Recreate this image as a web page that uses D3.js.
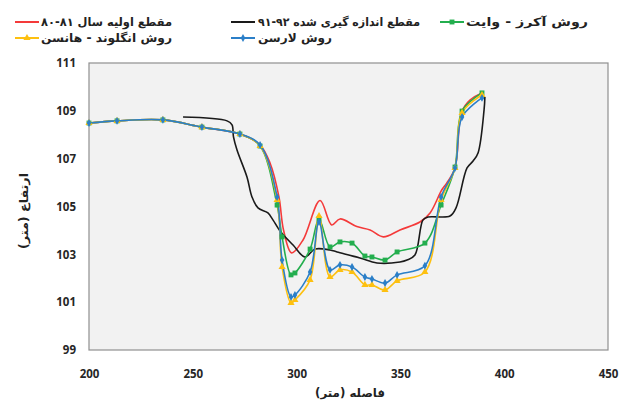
<!DOCTYPE html>
<html><head><meta charset="utf-8">
<script src="https://cdn.jsdelivr.net/npm/d3@7/dist/d3.min.js"></script>
<style>body{margin:0;background:#fff}svg{display:block}</style>
</head><body>
<svg id="chart" width="619" height="405"></svg>
<script>
// ---- data ----
const xTicks = [200, 250, 300, 350, 400, 450];
const yTicks = [99, 101, 103, 105, 107, 109, 111];

// stations of the calculated (marker) series
const methodX = [200, 213.5, 235.6, 254.4, 272.7, 282.4, 290.6, 293.0, 297.3, 299.2, 306.5, 310.8, 316.1, 320.9, 326.7, 332.9, 336.3, 342.6, 348.4, 361.8, 369.6, 376.3, 379.7, 389.3];
const ackersWhite = [108.49, 108.58, 108.62, 108.32, 108.03, 107.53, 105.06, 103.73, 102.14, 102.22, 103.22, 104.48, 103.31, 103.52, 103.47, 102.93, 102.89, 102.76, 103.10, 103.47, 105.06, 106.65, 108.99, 109.75];
const larsen      = [108.49, 108.58, 108.62, 108.32, 108.03, 107.57, 105.40, 102.76, 101.22, 101.30, 102.26, 104.35, 102.35, 102.56, 102.47, 102.05, 101.97, 101.80, 102.14, 102.52, 105.40, 106.61, 108.74, 109.54];
const engelund    = [108.49, 108.58, 108.62, 108.32, 108.03, 107.53, 105.27, 102.47, 100.97, 101.09, 101.93, 104.60, 102.05, 102.35, 102.26, 101.72, 101.72, 101.51, 101.89, 102.26, 105.27, 106.61, 108.91, 109.66];

// initial section 80-81
const initialX = [200, 213.5, 235.6, 254.4, 272.7, 282.4, 287.2, 291.5, 293.7, 297.6, 303.1, 311.3, 316.9, 320.9, 329.0, 335.4, 341.8, 349.8, 359.4, 364.3, 369.9, 372.3, 376.3, 379.5, 383.5, 389.3];
const initialY = [108.49, 108.58, 108.62, 108.32, 108.03, 107.57, 106.82, 105.40, 104.02, 103.06, 103.60, 105.25, 104.23, 104.48, 104.16, 104.02, 103.73, 104.02, 104.35, 104.73, 105.69, 105.98, 106.61, 108.95, 109.45, 109.75];

// measured section 91-92
const measuredX = [245.3, 266.5, 268.9, 269.6, 271.3, 276.1, 278.5, 281.4, 286.2, 288.6, 292.0, 298.3, 304.0, 308.9, 316.1, 319.5, 330.5, 338.7, 349.8, 353.2, 357.0, 360.9, 363.3, 373.9, 376.8, 382.1, 385.0, 387.4, 390.3, 390.7];
const measuredY = [108.74, 108.58, 108.41, 107.91, 107.36, 106.23, 105.40, 104.94, 104.73, 104.44, 103.98, 103.39, 102.89, 103.22, 103.18, 103.10, 102.85, 102.64, 102.68, 102.76, 102.97, 104.44, 104.56, 104.60, 104.94, 106.61, 106.90, 107.24, 109.04, 109.58];

const seriesNames = {
  initial: "مقطع اولیه سال ۸۱-۸۰",
  measured: "مقطع اندازه گیری شده ۹۲-۹۱",
  ackers: "روش آکرز - وایت",
  engelund: "روش انگلوند - هانسن",
  larsen: "روش لارسن"
};
const xTitle = "فاصله (متر)";
const yTitle = "ارتفاع (متر)";

// ---- drawing ----
const svg = d3.select("#chart");
const x = d3.scaleLinear().domain([200, 450]).range([89, 608]);
const y = d3.scaleLinear().domain([99, 111]).range([350, 63]);

svg.append("rect").attr("x", x(200)).attr("y", y(111))
  .attr("width", x(450) - x(200)).attr("height", y(99) - y(111))
  .attr("fill", "#f2f2f2").attr("stroke", "#8f8f8f").attr("stroke-width", 1.2);

const tickFont = "'Open Sans', 'DejaVu Sans', sans-serif";
const gy = svg.append("g").attr("transform", `translate(${x(200)},0)`)
  .call(d3.axisLeft(y).tickValues(yTicks).tickSize(0).tickPadding(13).tickFormat(d3.format("d")));
const gx = svg.append("g").attr("transform", `translate(0,${y(99)})`)
  .call(d3.axisBottom(x).tickValues(xTicks).tickSize(0).tickPadding(20).tickFormat(d3.format("d")));
[gx, gy].forEach(g => {
  g.select(".domain").remove();
  g.selectAll("text").attr("font-family", tickFont).attr("font-size", 11.5)
    .attr("font-weight", 700).attr("fill", "#262626");
});

const line = d3.line().x(d => x(d[0])).y(d => y(d[1])).curve(d3.curveCatmullRom.alpha(0.5));
const zip = (xs, ys) => xs.map((v, i) => [v, ys[i]]);

const colors = { initial: "#f43a3a", measured: "#1a1a1a", ackers: "#23ae4e", engelund: "#fdc010", larsen: "#2b7fc8" };

const series = [
  { key: "initial", pts: zip(initialX, initialY), marker: null },
  { key: "measured", pts: zip(measuredX, measuredY), marker: null },
  { key: "ackers", pts: zip(methodX, ackersWhite), marker: "square" },
  { key: "engelund", pts: zip(methodX, engelund), marker: "triangle" },
  { key: "larsen", pts: zip(methodX, larsen), marker: "diamond" }
];
const symSize = { square: 24, triangle: 22, diamond: 18 };
const symType = { square: d3.symbolSquare, triangle: d3.symbolTriangle, diamond: d3.symbolDiamond };

series.forEach(s => {
  svg.append("path").datum(s.pts).attr("d", line).attr("fill", "none")
    .attr("stroke", colors[s.key]).attr("stroke-width", 1.6).attr("stroke-linejoin", "round");
});
series.forEach(s => {
  if (!s.marker) return;
  svg.append("g").selectAll("path").data(s.pts).join("path")
    .attr("transform", d => `translate(${x(d[0])},${y(d[1])})`)
    .attr("d", d3.symbol().type(symType[s.marker]).size(symSize[s.marker]))
    .attr("fill", colors[s.key]);
});

// ---- legend ----
const legFont = "'DejaVu Sans', sans-serif";
const legend = [
  { key: "initial", lx: 15, ly: 22, tx0: 41, tx1: 172 },
  { key: "measured", lx: 231, ly: 22, tx0: 258, tx1: 420 },
  { key: "ackers", lx: 440, ly: 22, tx0: 466, tx1: 588 },
  { key: "engelund", lx: 15, ly: 38, tx0: 41, tx1: 172 },
  { key: "larsen", lx: 231, ly: 38, tx0: 258, tx1: 332 }
];
const markerOf = { ackers: "square", engelund: "triangle", larsen: "diamond" };
legend.forEach(l => {
  svg.append("line").attr("x1", l.lx).attr("x2", l.lx + 24).attr("y1", l.ly).attr("y2", l.ly)
    .attr("stroke", colors[l.key]).attr("stroke-width", 2);
  if (markerOf[l.key]) {
    svg.append("path").attr("transform", `translate(${l.lx + 12},${l.ly})`)
      .attr("d", d3.symbol().type(symType[markerOf[l.key]]).size(symSize[markerOf[l.key]]))
      .attr("fill", colors[l.key]);
  }
  svg.append("text").attr("x", (l.tx0 + l.tx1) / 2).attr("y", l.ly + 4)
    .attr("text-anchor", "middle").attr("direction", "rtl")
    .attr("font-family", legFont).attr("font-size", 11.5).attr("font-weight", 700)
    .attr("fill", "#222").attr("textLength", l.tx1 - l.tx0).attr("lengthAdjust", "spacingAndGlyphs")
    .text(seriesNames[l.key]);
});

// ---- axis titles ----
svg.append("text").attr("x", 350).attr("y", 397).attr("text-anchor", "middle").attr("direction", "rtl")
  .attr("font-family", legFont).attr("font-size", 11.5).attr("font-weight", 700).attr("fill", "#222")
  .attr("textLength", 70).attr("lengthAdjust", "spacingAndGlyphs").text(xTitle);
svg.append("text").attr("transform", "translate(28,211) rotate(-90)").attr("text-anchor", "middle").attr("direction", "rtl")
  .attr("font-family", legFont).attr("font-size", 11.5).attr("font-weight", 700).attr("fill", "#222")
  .attr("textLength", 76).attr("lengthAdjust", "spacingAndGlyphs").text(yTitle);
</script>
</body></html>
